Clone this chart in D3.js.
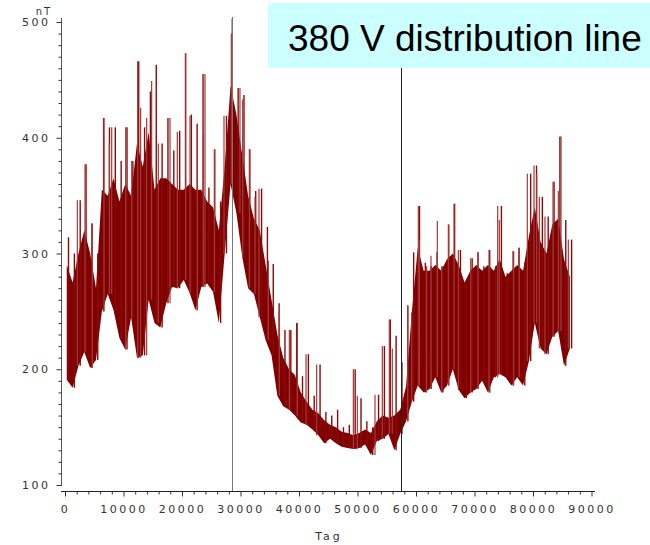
<!DOCTYPE html>
<html>
<head>
<meta charset="utf-8">
<script src="https://cdn.jsdelivr.net/npm/d3@7"></script>
<style>
  body { margin: 0; background: #fff; }
  .axis text { font-family: "DejaVu Sans", sans-serif; font-size: 11px; fill: #333; letter-spacing: 2.5px; }
  .axis line { stroke: #333; }
</style>
</head>
<body>
<svg class="chart"></svg>
<script>
// bin start times (s), one bin per 1000 s
var binStart = [0, 1000, 2000, 3000, 4000, 5000, 6000, 7000, 8000, 9000,
  10000, 11000, 12000, 13000, 14000, 15000, 16000, 17000, 18000, 19000,
  20000, 21000, 22000, 23000, 24000, 25000, 26000, 27000, 28000, 29000,
  30000, 31000, 32000, 33000, 34000, 35000, 36000, 37000, 38000, 39000,
  40000, 41000, 42000, 43000, 44000, 45000, 46000, 47000, 48000, 49000,
  50000, 51000, 52000, 53000, 54000, 55000, 56000, 57000, 58000, 59000,
  60000, 61000, 62000, 63000, 64000, 65000, 66000, 67000, 68000, 69000,
  70000, 71000, 72000, 73000, 74000, 75000, 76000, 77000, 78000, 79000,
  80000, 81000, 82000, 83000, 84000, 85000, 86000];

// lowest value in each bin (nT)
var lowVal = [191, 184, 203, 215, 201, 208, 250, 265, 251, 227,
  217, 245, 210, 212, 260, 240, 236, 257, 271, 270,
  277, 266, 251, 271, 274, 267, 240, 300, 360, 335,
  297, 270, 265, 245, 225, 212, 177, 168, 165, 160,
  154, 152, 148, 143, 136, 140, 136, 133, 132, 131,
  132, 135, 126, 138, 140, 144, 130, 144, 155, 172,
  186, 180, 183, 193, 180, 186, 200, 182, 175, 180,
  183, 190, 180, 193, 196, 193, 186, 193, 186, 207,
  240, 218, 213, 228, 233, 203, 218];

// upper edge of the dense band
var coreVal = [290, 275, 300, 320, 300, 270, 355, 350, 365, 345,
  360, 350, 395, 375, 405, 355, 365, 365, 360, 355,
  355, 360, 355, 355, 345, 340, 320, 375, 445, 420,
  385, 350, 330, 320, 290, 260, 230, 210, 200, 195,
  180, 172, 165, 162, 156, 152, 150, 146, 145, 143,
  145, 148, 145, 155, 160, 158, 160, 165, 185, 250,
  305, 285, 285, 290, 285, 295, 300, 290, 275, 285,
  290, 285, 290, 285, 295, 280, 285, 290, 285, 315,
  340, 310, 300, 325, 330, 295, 280];

// highest spike in each bin
var highVal = [314, 300, 346, 377, 326, 300, 417, 409, 409, 380,
  409, 380, 466, 409, 440, 463, 395, 417, 389, 406,
  473, 420, 412, 455, 357, 390, 345, 419, 503, 443,
  437, 390, 354, 356, 323, 291, 257, 234, 234, 240,
  194, 213, 177, 204, 163, 160, 165, 150, 152, 200,
  175, 155, 150, 178, 220, 243, 229, 206, 255, 301,
  341, 292, 289, 301, 289, 325, 343, 303, 273, 296,
  301, 289, 303, 289, 341, 283, 302, 305, 292, 369,
  376, 349, 332, 362, 401, 329, 312];

// further single spikes: time (s), peak (nT)
var spikeTime = [2110, 3420, 4670, 6670, 7580, 7980, 10370, 11400, 12420, 12930,
  13960, 14810, 15950, 17950, 19200, 20630, 21370, 22620, 23650, 23930,
  25530, 27180, 28430, 29910, 30370, 31510, 32480, 33160, 34760, 36640,
  38350, 39720, 41200, 43020, 49290, 49970, 52990, 54245, 55440, 55950,
  58575, 59260, 60400, 60570, 61820, 62560, 63650, 64390, 65530, 66500,
  67240, 69350, 70600, 72480, 73960, 74245, 76700, 77660, 79030, 80170,
  80630, 81080, 82050, 83420, 84330, 84790, 86040];
var spikePeak = [346, 377, 326, 417, 395, 409, 409, 380, 466, 426,
  417, 449, 395, 417, 405, 473, 419, 410, 403, 455,
  390, 419, 490, 443, 433, 390, 349, 356, 294, 250,
  234, 240, 213, 204, 200, 177, 178, 220, 243, 218,
  255, 249, 341, 312, 289, 298, 328, 289, 325, 343,
  303, 296, 301, 303, 341, 329, 302, 305, 369, 376,
  369, 349, 332, 362, 354, 401, 312];

var markerTimes = [28600, 57500];
var yTicks = [100, 200, 300, 400, 500];
var xTicks = [0, 10000, 20000, 30000, 40000, 50000, 60000, 70000, 80000, 90000];
var title = "380 V distribution line";

var width = 650, height = 545;

var svg = d3.select(".chart")
    .attr("width", width)
    .attr("height", height);

var xScale = d3.scaleLinear().domain([0, 90000]).range([65, 591.5]),
    yScale = d3.scaleLinear().domain([100, 500]).range([485, 22]);

var data = binStart.map(function(t, i) {
  return {t: t, lo: lowVal[i], core: coreVal[i], hi: highVal[i]};
});

// dense band
var band = d3.area()
    .x(function(d) { return xScale(d.t + 300); })
    .y0(function(d) { return yScale(d.lo); })
    .y1(function(d) { return yScale(d.core); });

svg.append("path")
    .datum(data)
    .attr("d", band)
    .attr("fill", "#800000");

// spikes, one per bin
svg.selectAll(".spike")
    .data(data)
  .enter().append("line")
    .attr("class", "spike")
    .attr("x1", function(d) { return xScale(d.t + 600); })
    .attr("x2", function(d) { return xScale(d.t + 600); })
    .attr("y1", function(d) { return yScale(d.lo); })
    .attr("y2", function(d) { return yScale(d.hi); })
    .attr("stroke", "#8a0a0a")
    .attr("stroke-width", 1.4);

// extra spikes, rising from the band edge of their bin
var extra = spikeTime.map(function(t, i) {
  var b = Math.min(binStart.length - 1, Math.floor(t / 1000));
  return {t: t, base: lowVal[b], peak: spikePeak[i]};
});

svg.selectAll(".spike2")
    .data(extra)
  .enter().append("line")
    .attr("class", "spike2")
    .attr("x1", function(d) { return xScale(d.t); })
    .attr("x2", function(d) { return xScale(d.t); })
    .attr("y1", function(d) { return yScale(d.base); })
    .attr("y2", function(d) { return yScale(d.peak); })
    .attr("stroke", "#a33a3a")
    .attr("stroke-width", 1.2);

// marker lines
svg.selectAll(".marker")
    .data(markerTimes)
  .enter().append("line")
    .attr("class", "marker")
    .attr("x1", function(d) { return Math.round(xScale(d)) + 0.5; })
    .attr("x2", function(d) { return Math.round(xScale(d)) + 0.5; })
    .attr("y1", 491)
    .attr("y2", 17)
    .attr("stroke", function(d, i) { return i === 0 ? "#777" : "#222"; })
    .attr("stroke-width", 1);

// y axis
var yAxis = d3.axisLeft(yScale).tickValues(yTicks).tickSize(5).tickSizeOuter(0).tickPadding(6);
var yMinor = d3.axisLeft(yScale)
    .tickValues(d3.range(110, 500, 10).filter(function(v) { return v % 100; }))
    .tickSize(3).tickFormat("");

var gy = svg.append("g").attr("class", "axis").attr("transform", "translate(61.5,0)");
gy.call(yAxis);
gy.append("g").call(yMinor).select(".domain").remove();
gy.select(".domain").attr("stroke", "#555").attr("d", "M0,18V486");

// x axis
var xAxis = d3.axisBottom(xScale).tickValues(xTicks).tickFormat(d3.format("d"))
    .tickSize(5).tickSizeOuter(0).tickPadding(9);
var xMinor = d3.axisBottom(xScale)
    .tickValues(d3.range(0, 92000, 2000).filter(function(v) { return v % 10000; }))
    .tickSize(3).tickFormat("");

var gx = svg.append("g").attr("class", "axis").attr("transform", "translate(0,491.5)");
gx.call(xAxis);
gx.append("g").call(xMinor).select(".domain").remove();
gx.select(".domain").attr("stroke", "#222").attr("d", "M61,0H595");

// axis labels
svg.append("text")
    .attr("class", "label")
    .attr("x", 44)
    .attr("y", 15)
    .style("text-anchor", "middle")
    .style("font-family", "DejaVu Sans, sans-serif")
    .style("font-size", "10px")
    .style("letter-spacing", "2px")
    .style("fill", "#333")
    .text("nT");

svg.append("text")
    .attr("class", "label")
    .attr("x", 329)
    .attr("y", 540)
    .style("text-anchor", "middle")
    .style("font-family", "DejaVu Sans, sans-serif")
    .style("font-size", "11px")
    .style("letter-spacing", "3px")
    .style("fill", "#333")
    .text("Tag");

// title box
svg.append("rect")
    .attr("x", 268)
    .attr("y", 3)
    .attr("width", 382)
    .attr("height", 65)
    .attr("fill", "#ccffff");

svg.append("text")
    .attr("x", 288)
    .attr("y", 51)
    .style("font-family", "Liberation Sans, Arial, sans-serif")
    .style("font-size", "37px")
    .style("fill", "#000")
    .text(title);
</script>
</body>
</html>
